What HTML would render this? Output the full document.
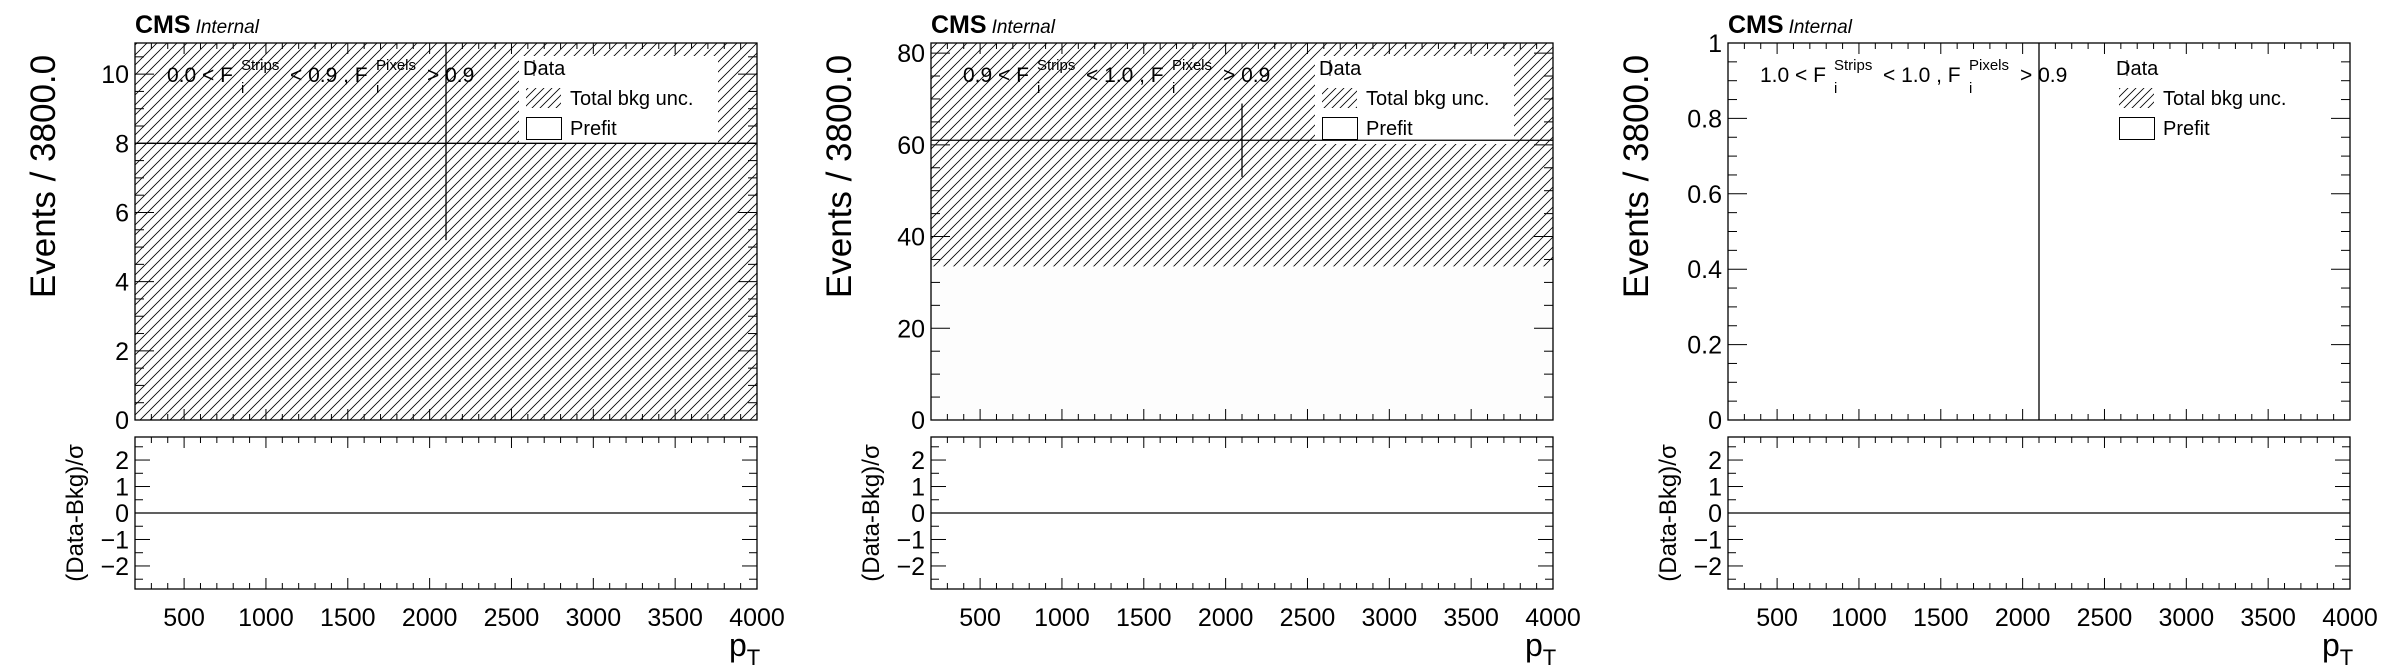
<!DOCTYPE html>
<html><head><meta charset="utf-8"><style>
html,body{margin:0;padding:0;background:#fff;}
svg{display:block;font-family:"Liberation Sans",Arial,sans-serif;}
</style></head><body>
<svg id="fig" width="2388" height="672" viewBox="0 0 2388 672" xmlns="http://www.w3.org/2000/svg">
<defs>
<pattern id="hatch" patternUnits="userSpaceOnUse" width="10" height="10">
<path d="M-1,11 L11,-1 M-1,1 L1,-1 M9,11 L11,9" stroke="#000" stroke-width="0.8"/>
</pattern>
<pattern id="hatchS" patternUnits="userSpaceOnUse" width="8" height="8">
<path d="M-1,9 L9,-1 M-1,1 L1,-1 M7,9 L9,7" stroke="#000" stroke-width="0.8"/>
</pattern>
</defs>
</svg>
<script>
// ---- data ----
const binLow = 200;
const binHigh = 4000;
const regionLabels = [["0.0","0.9"],["0.9","1.0"],["1.0","1.0"]];
const yMax = [10.9, 82.2, 1.0];
const bkgValues = [8, 61, 0];
const bkgUncLow = [0, 33.5, 0];
const bkgUncHigh = [16, 90, 0];
const dataValues = [8, 61, 0];
const dataErrLow = [2.8, 8, 0];
const dataErrHigh = [3.9, 8, 1.84];
const pullValues = [0, 0, 0];
const xTicks = [500,1000,1500,2000,2500,3000,3500,4000];
const yMajorStep = [2, 20, 0.2];
const yMinorStep = [0.5, 5, 0.05];
const ratioTicks = [-2,-1,0,1,2];

const NS = "http://www.w3.org/2000/svg";
const svg = document.getElementById('fig');
const panelLeft = [135, 931, 1728];
const W = 622;
const mainTop = 43, mainBot = 420, ratTop = 437, ratBot = 589;
const rMin = -2.87, rMax = 2.87;

function el(tag, attrs, parent){
  const e = document.createElementNS(NS, tag);
  for (const k in attrs) e.setAttribute(k, attrs[k]);
  (parent||svg).appendChild(e);
  return e;
}
function txt(s, attrs, parent){ const t = el('text', attrs, parent); t.textContent = s; return t; }
function fmt(v, step){ if (step < 1) return (Math.round(v*10)/10).toFixed(v===0||v===1?0:1); return String(Math.round(v)); }

for (let p=0;p<3;p++){
  const L = panelLeft[p];
  const g = el('g',{});
  
  
  const X = v => L + (v-binLow)/(binHigh-binLow)*W;
  const Y = v => mainBot - v/yMax[p]*(mainBot-mainTop);
  const YR = v => ratBot - (v-rMin)/(rMax-rMin)*(ratBot-ratTop);
  const clampY = v => Math.max(mainTop, Math.min(mainBot, Y(v)));

  const bk = el('rect',{x:X(binLow),y:clampY(bkgValues[p]),width:X(binHigh)-X(binLow),height:mainBot-clampY(bkgValues[p]),fill:'#fdfdfd'}, g);
  
  
  if (bkgUncHigh[p] > bkgUncLow[p]){
    const y1 = clampY(bkgUncHigh[p]), y2 = clampY(bkgUncLow[p]);
    const hu = el('rect',{x:X(binLow),y:y1,width:X(binHigh)-X(binLow),height:y2-y1,fill:'url(#hatch)'}, g);
    
    
  }
  const lg = el('g',{}, g);
  
  
  el('rect',{x:L+384,y:56,width:199,height:88,fill:'#fff'}, lg);
  if (bkgValues[p] > 0){
    const pl = el('line',{x1:X(binLow),x2:X(binHigh),y1:Y(bkgValues[p]),y2:Y(bkgValues[p]),stroke:'#000','stroke-width':1.3}, g);
    
    
  }
  const xc = X((binLow+binHigh)/2);
  const de = el('line',{x1:xc,x2:xc,y1:clampY(dataValues[p]+dataErrHigh[p]),y2:clampY(dataValues[p]-dataErrLow[p]),stroke:'#000','stroke-width':1.3}, g);
  
  

  txt('Data',{x:L+388,y:75,'font-size':20}, lg);
  el('line',{x1:L+399,x2:L+399,y1:60,y2:76,stroke:'#000','stroke-width':1}, lg);
  el('rect',{x:L+391,y:88,width:35,height:20,fill:'url(#hatchS)'}, lg);
  txt('Total bkg unc.',{x:L+435,y:105,'font-size':20}, lg);
  el('rect',{x:L+391.5,y:117.5,width:35,height:22,fill:'#fff',stroke:'#000','stroke-width':1}, lg);
  txt('Prefit',{x:L+435,y:135,'font-size':20}, lg);

  el('rect',{x:L,y:mainTop,width:W,height:mainBot-mainTop,fill:'none',stroke:'#000','stroke-width':1.3}, g);
  el('rect',{x:L,y:ratTop,width:W,height:ratBot-ratTop,fill:'none',stroke:'#000','stroke-width':1.3}, g);

  for (let v=binLow; v<=binHigh; v+=100){
    const major = v%500===0, x = X(v);
    const l1 = major?11:6;
    el('line',{x1:x,x2:x,y1:mainBot,y2:mainBot-l1,stroke:'#000'}, g);
    el('line',{x1:x,x2:x,y1:mainTop,y2:mainTop+l1,stroke:'#000'}, g);
    el('line',{x1:x,x2:x,y1:ratBot,y2:ratBot-l1,stroke:'#000'}, g);
    el('line',{x1:x,x2:x,y1:ratTop,y2:ratTop+l1,stroke:'#000'}, g);
  }
  xTicks.forEach(v=>{
    const t = txt(String(v),{x:X(v),y:626,'font-size':25,'text-anchor':'middle'}, g);
    
    
  });
  const nMin = Math.round(yMax[p]/yMinorStep[p]);
  for (let i=0;i<=nMin;i++){
    const v = i*yMinorStep[p]; if (v>yMax[p]+1e-9) break;
    const major = Math.abs(v/yMajorStep[p]-Math.round(v/yMajorStep[p]))<1e-6;
    const y = Y(v), l = major?19:9;
    el('line',{x1:L,x2:L+l,y1:y,y2:y,stroke:'#000'}, g);
    el('line',{x1:L+W,x2:L+W-l,y1:y,y2:y,stroke:'#000'}, g);
    if (major){
      const t = txt(fmt(v,yMajorStep[p]),{x:L-6,y:y+9,'font-size':25,'text-anchor':'end'}, g);
      
      
    }
  }
  for (let v=-2.5; v<=2.5; v+=0.5){
    const major = Number.isInteger(v), y = YR(v), l = major?15:8;
    el('line',{x1:L,x2:L+l,y1:y,y2:y,stroke:'#000'}, g);
    el('line',{x1:L+W,x2:L+W-l,y1:y,y2:y,stroke:'#000'}, g);
  }
  ratioTicks.forEach(v=>{
    const t = txt(v<0?('\u2212'+(-v)):String(v),{x:L-6,y:YR(v)+9,'font-size':25,'text-anchor':'end'}, g);
    
    
  });
  el('line',{x1:L,x2:L+W,y1:YR(0),y2:YR(0),stroke:'#000','stroke-width':1.3}, g);
  const pb = el('rect',{x:X(binLow),y:Math.min(YR(0),YR(pullValues[p])),width:W,height:Math.abs(YR(pullValues[p])-YR(0)),fill:'#888'}, g);
  
  

  const yt = txt('Events / 3800.0',{x:0,y:0,'font-size':35,'text-anchor':'middle',transform:`translate(${L-80},${(mainTop+mainBot)/2-55}) rotate(-90)`}, g);
  
  
  const rt = txt('(Data-Bkg)/\u03c3',{x:0,y:0,'font-size':24,'text-anchor':'middle',transform:`translate(${L-52},${(ratTop+ratBot)/2}) rotate(-90)`}, g);
  
  
  const xt = el('text',{x:L+W-28,y:656,'font-size':32}, g);
  
  
  xt.innerHTML = 'p<tspan font-size="22" dy="9">T</tspan>';

  const cms = el('text',{x:L,y:33}, g);
  
  
  cms.innerHTML = '<tspan font-size="25" font-weight="bold">CMS</tspan><tspan font-size="19" font-style="italic" dx="5">Internal</tspan>';

  const an = el('g',{'font-size':21}, g);
  
  
  const r = regionLabels[p];
  txt(r[0]+' < F',{x:L+32,y:82}, an);
  txt('Strips',{x:L+106,y:70,'font-size':15}, an);
  txt('i',{x:L+106,y:93,'font-size':15}, an);
  txt('< '+r[1]+' , F',{x:L+155,y:82}, an);
  txt('Pixels',{x:L+241,y:70,'font-size':15}, an);
  txt('i',{x:L+241,y:93,'font-size':15}, an);
  txt('> 0.9',{x:L+292,y:82}, an);
}
</script>
</body></html>
